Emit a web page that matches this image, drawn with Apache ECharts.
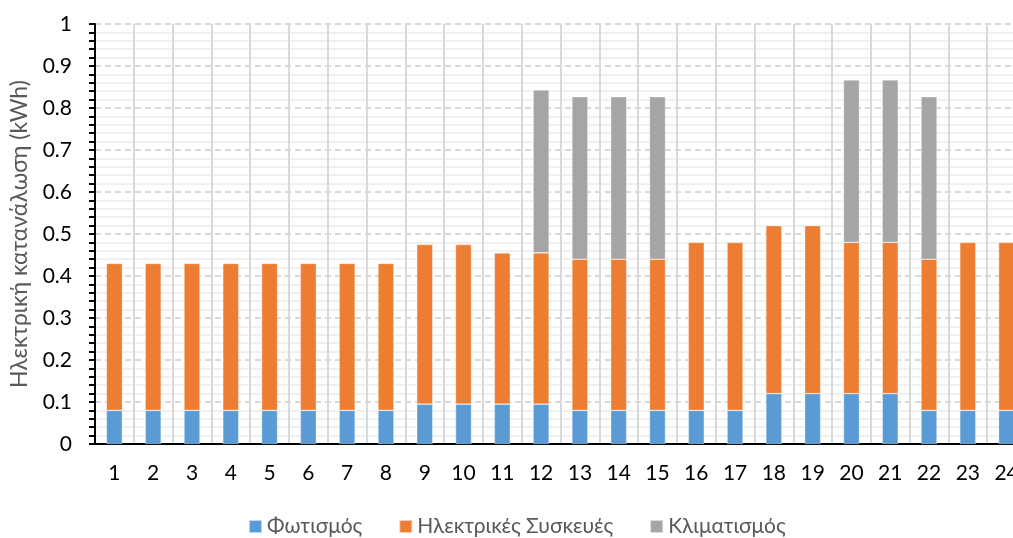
<!DOCTYPE html>
<html>
<head>
<meta charset="utf-8">
<script src="https://cdn.jsdelivr.net/npm/echarts@6/dist/echarts.min.js"></script>
<style>
  html, body { margin: 0; padding: 0; background: #fff; overflow: hidden; }
  #chart { width: 1013px; height: 538px; }
</style>
</head>
<body>
<div id="chart"></div>
<script>
// Hours of the day
const hours = ['1','2','3','4','5','6','7','8','9','10','11','12','13','14','15','16','17','18','19','20','21','22','23','24'];

// Consumption per use (kWh)
const lighting   = [0.08,0.08,0.08,0.08,0.08,0.08,0.08,0.08,0.095,0.095,0.095,0.095,0.08,0.08,0.08,0.08,0.08,0.12,0.12,0.12,0.12,0.08,0.08,0.08];
const appliances = [0.35,0.35,0.35,0.35,0.35,0.35,0.35,0.35,0.38,0.38,0.36,0.36,0.36,0.36,0.36,0.40,0.40,0.40,0.40,0.36,0.36,0.36,0.40,0.40];
const cooling    = [0,0,0,0,0,0,0,0,0,0,0,0.388,0.387,0.387,0.387,0,0,0,0,0.387,0.387,0.387,0,0];

const seriesNames = ['Φωτισμός', 'Ηλεκτρικές Συσκευές', 'Κλιματισμός'];
const seriesColors = ['#5b9bd5', '#ed7d31', '#a5a5a5'];
const yTicks = ['0','0.1','0.2','0.3','0.4','0.5','0.6','0.7','0.8','0.9','1'];

const FONT = 'Lato, "Open Sans", sans-serif';

const chart = echarts.init(document.getElementById('chart'));

function barSeries(i, data) {
  return {
    name: seriesNames[i],
    type: 'bar',
    stack: 'total',
    barWidth: 16,
    data: data.map(v => (v === 0 ? null : v)),
    itemStyle: { color: seriesColors[i], borderColor: 'rgba(255,255,255,0.6)', borderWidth: 0.6 }
  };
}

chart.setOption({
  animation: false,
  textStyle: { fontFamily: FONT },
  // plot area runs slightly past the right edge of the canvas
  grid: { left: 95, width: 931, top: 24, bottom: 94, outerBoundsMode: 'none', containLabel: false },
  legend: {
    bottom: -4,
    left: 243,
    itemWidth: 13,
    itemHeight: 13,
    itemGap: 36,
    icon: 'rect',
    textStyle: { color: '#595959', fontSize: 21, fontFamily: FONT },
    data: seriesNames
  },
  xAxis: {
    type: 'category',
    data: hours,
    axisLine: { lineStyle: { color: '#000', width: 2 } },
    axisTick: { alignWithLabel: true, length: 5, lineStyle: { color: '#000', width: 2 } },
    axisLabel: { color: '#000', fontSize: 21, margin: 19, fontFamily: FONT },
    splitLine: { show: true, lineStyle: { color: '#d9d9d9', width: 2 } }
  },
  yAxis: {
    type: 'value',
    min: 0,
    max: 1,
    interval: 0.1,
    name: 'Ηλεκτρική κατανάλωση (kWh)',
    nameLocation: 'middle',
    nameGap: 64,
    nameTextStyle: { color: '#595959', fontSize: 23, fontFamily: FONT },
    axisLine: { show: true, lineStyle: { color: '#000', width: 2 } },
    axisTick: { show: true, length: 6, lineStyle: { color: '#000', width: 2 } },
    minorTick: { show: true, splitNumber: 5, length: 6, lineStyle: { color: '#000', width: 2 } },
    axisLabel: {
      color: '#000', fontSize: 21, margin: 23, fontFamily: FONT,
      formatter: v => yTicks[Math.round(v * 10)]
    },
    splitLine: { show: true, lineStyle: { color: '#d9d9d9', width: 2, type: [6, 4] } },
    minorSplitLine: { show: true, lineStyle: { color: '#f0f0f0', width: 2 } }
  },
  series: [
    barSeries(0, lighting),
    barSeries(1, appliances),
    barSeries(2, cooling)
  ]
});
</script>
</body>
</html>
